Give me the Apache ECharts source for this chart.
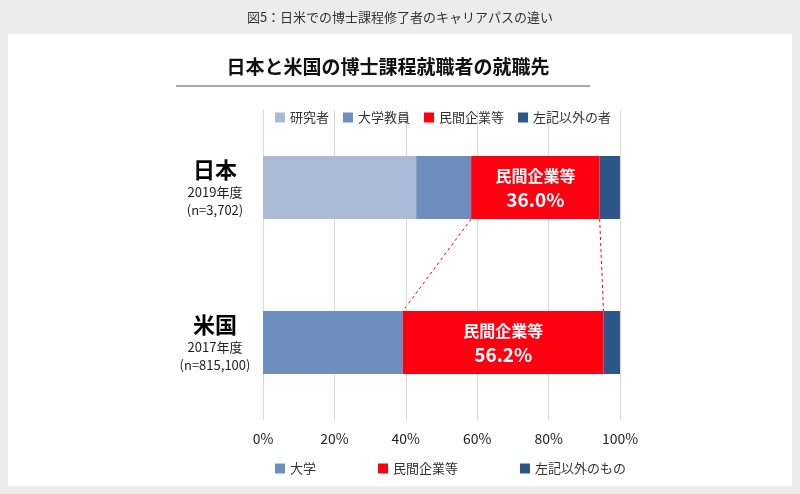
<!DOCTYPE html>
<html><head><meta charset="utf-8">
<script src="https://cdn.jsdelivr.net/npm/echarts@6/dist/echarts.min.js"></script>
<style>body{margin:0;background:#ececec}#c{width:800px;height:494px}</style>
</head><body><div id="c"></div>
<script>
const categories = ['日本', '米国'];
const jpResearcher = [42.9, 0];
const jpFaculty = [15.4, 0];
const jpPrivate = [36.0, 0];
const jpOther = [5.7, 0];
const usUniv = [0, 39.2];
const usPrivate = [0, 56.2];
const usOther = [0, 4.6];
const xTicks = [0, 20, 40, 60, 80, 100];
const catLabels = {'日本': ['2019年度', '(n=3,702)'], '米国': ['2017年度', '(n=815,100)']};

const C = {light:'#abbad6', mid:'#6e8fbe', red:'#ff0010', dark:'#2e5689'};
const chart = echarts.init(document.getElementById('c'));
function bar(name, data, color, label) {
  return {name, type:'bar', stack:'s', data, barWidth:63, itemStyle:{color},
    label: label ? {show:true, color:'#fff', fontWeight:'bold', lineHeight:24,
      formatter:p => p.value ? '{a|民間企業等}\n{b|' + p.value.toFixed(1) + '%}' : '',
      rich:{a:{fontSize:16,fontWeight:'bold',color:'#fff'}, b:{fontSize:19,fontWeight:'bold',color:'#fff'}}} : {show:false}};
}
const legendCommon = {itemWidth:10, itemHeight:10, icon:'rect', textStyle:{fontSize:13, color:'#333'},
  formatter: n => n.trim()};
const baseGraphic = [
  {type:'rect', shape:{x:8, y:34, width:784, height:452}, style:{fill:'#fff'}, z:-10},
  {type:'line', shape:{x1:176, y1:86, x2:590, y2:86}, style:{stroke:'#555', lineWidth:1}}
];
chart.setOption({
  animation:false,
  textStyle:{fontFamily:'Noto Sans CJK JP'},
  title:[{text:'図5：日米での博士課程修了者のキャリアパスの違い', left:'center', top:6, textStyle:{fontSize:13, fontWeight:'normal', color:'#333'}},
         {text:'日本と米国の博士課程就職者の就職先', left:383, textAlign:'center', top:52, textStyle:{fontSize:19, fontWeight:'bold', color:'#111'}}],
  graphic: baseGraphic,
  legend:[
    Object.assign({data:['研究者','大学教員','民間企業等','左記以外の者'], top:106, left:270, itemGap:14}, legendCommon),
    Object.assign({data:['大学','民間企業等 ','左記以外のもの'], top:457, left:270, itemGap:62}, legendCommon)
  ],
  grid:{left:263, right:180, top:110, bottom:74},
  xAxis:{type:'value', min:0, max:100, interval:20, axisLabel:{formatter:'{value}%', fontSize:14, color:'#222', margin:12},
    splitLine:{lineStyle:{color:'#d9d9d9'}}, axisLine:{show:false}, axisTick:{show:false}},
  yAxis:{type:'category', inverse:true, data:categories, axisLine:{show:false}, axisTick:{show:false},
    axisLabel:{align:'center', margin:48, lineHeight:18,
      formatter: v => '{t|' + v + '}\n{s|' + catLabels[v][0] + '}\n{s|' + catLabels[v][1] + '}',
      rich:{t:{fontSize:22, fontWeight:'bold', color:'#000', lineHeight:28}, s:{fontSize:13, color:'#222', lineHeight:18}}}},
  series:[
    bar('研究者', jpResearcher, C.light), bar('大学教員', jpFaculty, C.mid),
    bar('民間企業等', jpPrivate, C.red, true), bar('左記以外の者', jpOther, C.dark),
    bar('大学', usUniv, C.mid), bar('民間企業等 ', usPrivate, C.red, true), bar('左記以外のもの', usOther, C.dark)
  ]
});
const jpStart = jpResearcher[0] + jpFaculty[0], jpEnd = jpStart + jpPrivate[0];
const usStart = usUniv[1], usEnd = usStart + usPrivate[1];
const p = (x, c) => chart.convertToPixel({gridIndex:0}, [x, c]);
const half = 31.5;
const a1 = p(jpStart, 0), b1 = p(usStart, 1), a2 = p(jpEnd, 0), b2 = p(usEnd, 1);
chart.setOption({graphic: baseGraphic.concat([
  {type:'line', shape:{x1:a1[0], y1:a1[1]+half, x2:b1[0], y2:b1[1]-half}, style:{stroke:'#ff0010', lineDash:[3,3], lineWidth:1}},
  {type:'line', shape:{x1:a2[0], y1:a2[1]+half, x2:b2[0], y2:b2[1]-half}, style:{stroke:'#ff0010', lineDash:[3,3], lineWidth:1}}
])});
</script></body></html>
